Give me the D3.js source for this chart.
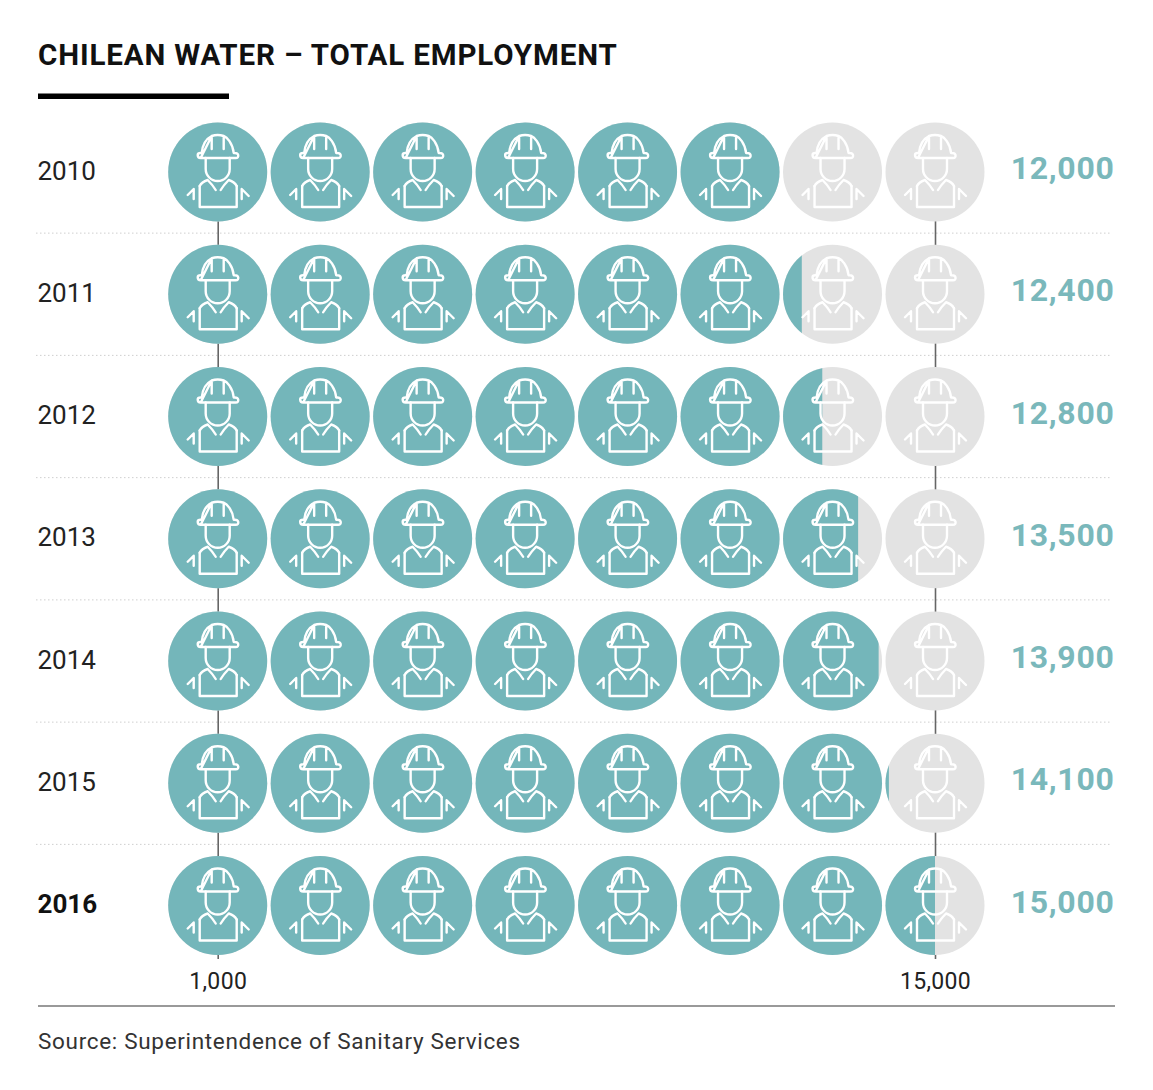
<!DOCTYPE html>
<html><head><meta charset="utf-8">
<script src="https://cdn.jsdelivr.net/npm/d3@7"></script>
<style>html,body{margin:0;padding:0;background:#fff}svg{display:block}text{font-family:Roboto,sans-serif}</style>
</head><body><div id="chart"></div>
<script>
const years = ["2010","2011","2012","2013","2014","2015","2016"];
const employment = [12000,12400,12800,13500,13900,14100,15000];
const iconValues = [1000,3000,5000,7000,9000,11000,13000,15000];
const axisTicks = [1000,15000];
const titleText = "CHILEAN WATER – TOTAL EMPLOYMENT";
const sourceText = "Source: Superintendence of Sanitary Services";

const W = 1153, H = 1090, R = 49.5;
const teal = "#74b6ba", grey = "#e3e3e3", valueTeal = "#7ab8bb";
const x = d3.scaleLinear().domain([1000,15000]).range([217.7,935]);
const y = d3.scalePoint().domain(years).range([172,905.5]);
const svg = d3.select("#chart").append("svg").attr("width",W).attr("height",H);
const defs = svg.append("defs");

svg.append("text").attr("x",38).attr("y",64.5).attr("font-size",29.5).attr("font-weight",700).attr("fill","#111").attr("letter-spacing",0.88).text(titleText);
svg.append("rect").attr("x",38).attr("y",93.5).attr("width",191).attr("height",5.5).attr("fill","#000");

// dotted row separators
const seps = years.slice(0,-1).map((d,i)=>(y(d)+y(years[i+1]))/2);
svg.append("g").selectAll("line").data(seps).join("line")
  .attr("x1",36).attr("x2",1112).attr("y1",d=>d).attr("y2",d=>d)
  .attr("stroke","#cfcfcf").attr("stroke-width",1).attr("stroke-dasharray","1.5 2.5");

// axis with long ticks behind the circles
const axis = d3.axisBottom(x).tickValues(axisTicks).tickSize(0).tickPadding(0).tickFormat(d3.format(","));
const ax = svg.append("g").attr("transform","translate(0,989)").call(axis);
ax.select(".domain").remove();
ax.selectAll("text").attr("y",0).attr("dy",0).attr("font-size",23).attr("letter-spacing",0.35).attr("font-family","Roboto,sans-serif").attr("fill","#222").attr("text-anchor","middle");
ax.selectAll("line").attr("y1",y(years[0])-989).attr("y2",-30).attr("stroke","#666").attr("stroke-width",1.6);

const iconPaths = [
 "M-17,-14 H18 Q21,-14 20.5,-17 Q20,-19 17,-19 H16 C15,-29 9,-35 6,-36 V-23 M6,-36 Q0,-38 -6,-36 V-23 M-6,-36 C-10,-34 -15,-29 -16,-19 H-17 Q-20,-19 -20,-17 Q-20,-14 -17,-14 Z",
 "M-12,-14 V-3 A12,12 0 0 0 12,-3 V-14",
 "M-18,14 V35 H19 V14",
 "M-18,14 Q-16,10 -10,8 Q-5,13 -2,18 M19,14 Q17,10 11,8 Q6,13 3,18",
 "M-24,27 V17 L-30,23 M24,27 V17 L31,24"
];

const rows = svg.append("g").selectAll("g").data(years.map((yr,i)=>({yr,v:employment[i],i}))).join("g")
  .attr("transform",d=>`translate(0,${y(d.yr)})`);

rows.each(function(d){
  defs.append("clipPath").attr("id","clip"+d.i).append("rect")
    .attr("x",0).attr("y",-R-2).attr("width",x(d.v)).attr("height",2*R+4);
});
rows.selectAll("circle.bg").data(()=>iconValues).join("circle").attr("class","bg")
  .attr("cx",v=>x(v)).attr("cy",0).attr("r",R).attr("fill",grey);
rows.append("g").attr("clip-path",d=>`url(#clip${d.i})`)
  .selectAll("circle").data(()=>iconValues).join("circle")
  .attr("cx",v=>x(v)).attr("cy",0).attr("r",R).attr("fill",teal);
const icons = rows.selectAll("g.icon").data(()=>iconValues).join("g").attr("class","icon")
  .attr("transform",v=>`translate(${x(v)},0)`);
icons.selectAll("path").data(iconPaths).join("path").attr("d",p=>p)
  .attr("fill","none").attr("stroke","#fff").attr("stroke-width",2.4).attr("stroke-linejoin","round").attr("stroke-linecap","round");

rows.append("text").attr("x",37.5).attr("y",7.5).attr("font-size",26)
  .attr("font-weight",d=>d.yr==="2016"?700:400).attr("fill",d=>d.yr==="2016"?"#111":"#222").text(d=>d.yr);
rows.append("text").attr("x",1114.5).attr("y",7).attr("text-anchor","end").attr("font-size",32).attr("font-weight",700)
  .attr("letter-spacing",0.7).attr("fill",valueTeal).text(d=>d3.format(",")(d.v));

svg.append("rect").attr("x",38).attr("y",1005).attr("width",1077).attr("height",2).attr("fill","#999");
svg.append("text").attr("x",38).attr("y",1049).attr("font-size",22.5).attr("fill","#333").attr("letter-spacing",0.68).text(sourceText);
</script></body></html>
